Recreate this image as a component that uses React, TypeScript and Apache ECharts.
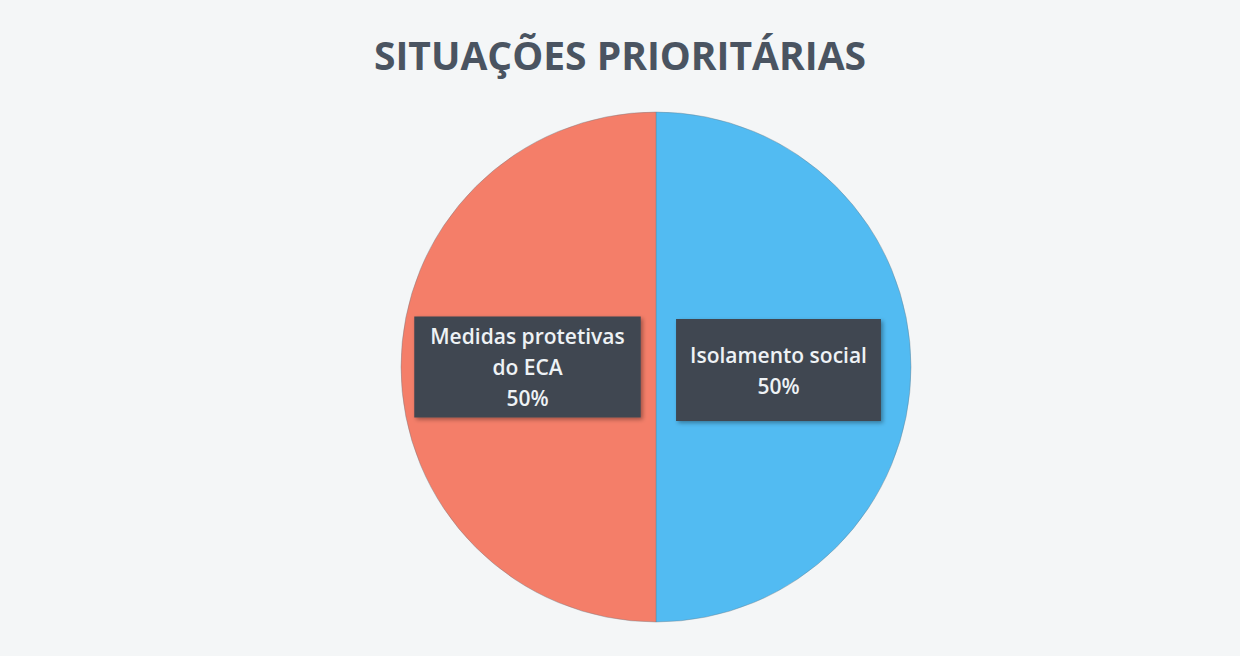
import React, { useEffect, useRef } from "react";
import * as echarts from "echarts";

const titleText = "SITUAÇÕES PRIORITÁRIAS";
const categories = ["Isolamento social", "Medidas protetivas\ndo ECA"];
const values = [50, 50];
const colors = ["#52BBF2", "#F47E69"];

export default function App() {
  const ref = useRef<HTMLDivElement>(null);
  useEffect(() => {
    if (!ref.current) return;
    const chart = echarts.init(ref.current, null, { renderer: "svg" });
    const labelPads = [
      [20, 14],
      [4, 16],
    ];
    const labelOffsets = [
      [-8, 3],
      [2, 0],
    ];
    chart.setOption({
      animation: false,
      backgroundColor: "#F4F6F7",
      title: {
        text: titleText,
        left: "center",
        top: 30,
        textStyle: {
          fontFamily: "Open Sans",
          fontWeight: 700,
          fontSize: 39,
          color: "#4A5461",
        },
      },
      series: [
        {
          type: "pie",
          center: [656, 367],
          radius: 255,
          startAngle: 90,
          clockwise: true,
          data: categories.map((name, i) => ({
            name,
            value: values[i],
            itemStyle: { color: colors[i] },
            label: { padding: labelPads[i], offset: labelOffsets[i] },
          })),
          itemStyle: { borderColor: "#6a7884", borderWidth: 0.4 },
          label: {
            show: true,
            position: "inside",
            formatter: "{b}\n{d}%",
            fontFamily: "Open Sans",
            fontWeight: 600,
            fontSize: 21,
            lineHeight: 31,
            color: "#EEF2F5",
            backgroundColor: "#3F4651",
            shadowColor: "rgba(0,0,0,0.35)",
            shadowBlur: 4,
            shadowOffsetX: 2,
            shadowOffsetY: 2,
            align: "center",
          },
          labelLine: { show: false },
          emphasis: { disabled: true },
        },
      ],
    });
    return () => chart.dispose();
  }, []);
  return (
    <div
      ref={ref}
      style={{ position: "fixed", left: 0, top: 0, width: 1240, height: 656 }}
    />
  );
}
